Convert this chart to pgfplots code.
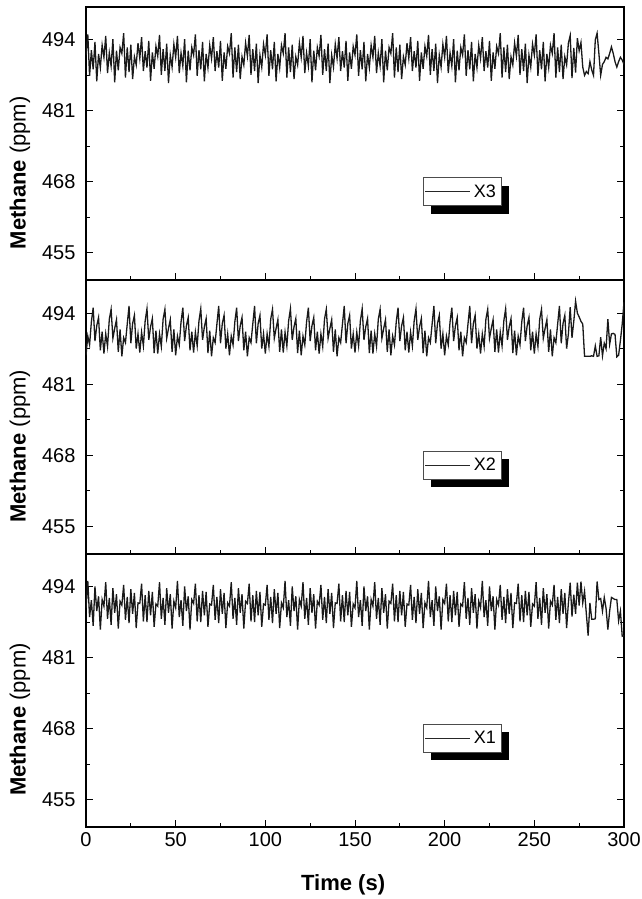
\documentclass[border=0pt]{standalone}
\usepackage{fontspec}
\setmainfont{Liberation Sans}
\usepackage{pgfplots}
\pgfplotsset{compat=1.18}
\usetikzlibrary{shadows}
\pgfplotsset{panel/.style={
  scale only axis, width=538pt, height=273.33pt,
  xmin=0, xmax=300, ymin=450, ymax=500,
  xtick={0,50,...,300}, minor x tick num=1,
  ytick={455,468,481,494}, minor y tick num=1,
  tick align=inside, xtick pos=left, ytick pos=both,
  major tick length=7pt, minor tick length=4pt,
  axis line style={line width=1.8pt, line cap=rect},
  axis background/.style={draw=black, line width=1.8pt},
  every tick/.style={line width=1pt, black},
  tick label style={font=\fontsize{20}{24}\selectfont},
  yticklabel style={xshift=-7pt},
  xticklabel style={yshift=-2pt},
  /pgf/number format/assume math mode=true,
  cycle list={{black!90, no markers, line width=1.3pt}},
  legend style={at={(0.626,0.377)}, anchor=north west, draw=black!70, line width=0.6pt, fill=white,
    font=\fontsize{18}{20}\selectfont, inner xsep=1.5pt, inner ysep=1pt,
    nodes={inner xsep=3.5pt, inner ysep=6pt},
    drop shadow={shadow xshift=8pt, shadow yshift=-8pt, fill=black, opacity=1, draw=none}},
  legend image code/.code={\pgfsetlinewidth{0.9pt}\pgfsetstrokecolor{black!85}%
    \pgfpathmoveto{\pgfpoint{0pt}{0pt}}\pgfpathlineto{\pgfpoint{45pt}{0pt}}\pgfusepath{stroke}},
  ylabel={\textbf{Methane} (ppm)},
  ylabel style={at={(axis description cs:-0.1227,0.393)}, anchor=center, font=\fontsize{22}{26}\selectfont},
}}
\begin{document}
\begin{tikzpicture}
% ---------------- top panel (X3)
\begin{axis}[panel, at={(0pt,546.67pt)}, anchor=south west, xticklabel=\empty]
\addplot[black!90, line width=1.3pt] coordinates {
(0,491.2)(1,495.0)(2,487.4)(3,492.1)(4,488.6)(5,493.6)(6,486.4)(7,491.4)(8,488.9)(9,493.0)
(10,490.8)(11,494.7)(12,487.9)(13,491.6)(14,489.2)(15,494.1)(16,486.2)(17,492.0)(18,488.4)(19,492.6)
(20,491.5)(21,495.2)(22,487.1)(23,492.6)(24,488.1)(25,493.1)(26,486.8)(27,490.9)(28,489.4)(29,493.4)
(30,490.6)(31,494.5)(32,488.3)(33,491.9)(34,488.9)(35,493.8)(36,486.5)(37,491.7)(38,488.7)(39,492.8)
(40,491.0)(41,494.9)(42,487.6)(43,492.3)(44,488.3)(45,493.3)(46,486.1)(47,491.2)(48,489.0)(49,493.2)
(50,490.8)(51,494.7)(52,487.9)(53,491.6)(54,489.2)(55,494.1)(56,486.2)(57,492.0)(58,488.4)(59,492.6)
(60,491.2)(61,495.0)(62,487.4)(63,492.1)(64,488.6)(65,493.6)(66,486.4)(67,491.4)(68,488.9)(69,493.0)
(70,490.6)(71,494.5)(72,488.3)(73,491.9)(74,488.9)(75,493.8)(76,486.5)(77,491.7)(78,488.7)(79,492.8)
(80,491.5)(81,495.2)(82,487.1)(83,492.6)(84,488.1)(85,493.1)(86,486.8)(87,490.9)(88,489.4)(89,493.4)
(90,491.0)(91,494.9)(92,487.6)(93,492.3)(94,488.3)(95,493.3)(96,486.1)(97,491.2)(98,489.0)(99,493.2)
(100,491.2)(101,495.0)(102,487.4)(103,492.1)(104,488.6)(105,493.6)(106,486.4)(107,491.4)(108,488.9)(109,493.0)
(110,491.5)(111,495.2)(112,487.1)(113,492.6)(114,488.1)(115,493.1)(116,486.8)(117,490.9)(118,489.4)(119,493.4)
(120,490.8)(121,494.7)(122,487.9)(123,491.6)(124,489.2)(125,494.1)(126,486.2)(127,492.0)(128,488.4)(129,492.6)
(130,491.0)(131,494.9)(132,487.6)(133,492.3)(134,488.3)(135,493.3)(136,486.1)(137,491.2)(138,489.0)(139,493.2)
(140,490.6)(141,494.5)(142,488.3)(143,491.9)(144,488.9)(145,493.8)(146,486.5)(147,491.7)(148,488.7)(149,492.8)
(150,491.2)(151,495.0)(152,487.4)(153,492.1)(154,488.6)(155,493.6)(156,486.4)(157,491.4)(158,488.9)(159,493.0)
(160,490.8)(161,494.7)(162,487.9)(163,491.6)(164,489.2)(165,494.1)(166,486.2)(167,492.0)(168,488.4)(169,492.6)
(170,491.5)(171,495.2)(172,487.1)(173,492.6)(174,488.1)(175,493.1)(176,486.8)(177,490.9)(178,489.4)(179,493.4)
(180,490.6)(181,494.5)(182,488.3)(183,491.9)(184,488.9)(185,493.8)(186,486.5)(187,491.7)(188,488.7)(189,492.8)
(190,491.0)(191,494.9)(192,487.6)(193,492.3)(194,488.3)(195,493.3)(196,486.1)(197,491.2)(198,489.0)(199,493.2)
(200,490.8)(201,494.7)(202,487.9)(203,491.6)(204,489.2)(205,494.1)(206,486.2)(207,492.0)(208,488.4)(209,492.6)
(210,491.2)(211,495.0)(212,487.4)(213,492.1)(214,488.6)(215,493.6)(216,486.4)(217,491.4)(218,488.9)(219,493.0)
(220,490.6)(221,494.5)(222,488.3)(223,491.9)(224,488.9)(225,493.8)(226,486.5)(227,491.7)(228,488.7)(229,492.8)
(230,491.5)(231,495.2)(232,487.1)(233,492.6)(234,488.1)(235,493.1)(236,486.8)(237,490.9)(238,489.4)(239,493.4)
(240,491.0)(241,494.9)(242,487.6)(243,492.3)(244,488.3)(245,493.3)(246,486.1)(247,491.2)(248,489.0)(249,493.2)
(250,491.2)(251,495.0)(252,487.4)(253,492.1)(254,488.6)(255,493.6)(256,486.4)(257,491.4)(258,488.9)(259,493.0)
(260,491.5)(261,495.2)(262,487.1)(263,492.6)(264,488.1)(265,493.1)(266,486.8)(267,490.9)(268,489.4)(269,493.4)
(270,494.8)(271,487.0)(272,492.5)(273,488.0)(274,494.3)(275,492.0)(276,493.5)(277,489.0)(278,487.5)(279,488.2)
(280,487.8)(281,490.0)(282,488.5)(283,487.5)(284,494.0)(285,495.2)(286,491.5)(287,487.5)(288,489.5)(289,490.0)
(290,490.8)(291,490.5)(292,491.5)(293,492.7)(294,491.5)(295,490.0)(296,489.0)(297,490.0)(298,490.8)(299,490.3)
(300,489.5)};
\addlegendentry{X3}
\end{axis}
% ---------------- middle panel (X2)
\begin{axis}[panel, at={(0pt,273.33pt)}, anchor=south west, xticklabel=\empty]
\addplot[black!90, line width=1.3pt] coordinates {
(0,486.3)(1,489.8)(2,488.2)(3,492.4)(4,495.0)(5,488.9)(6,491.7)(7,493.2)(8,487.2)(9,490.6)
(10,486.6)(11,490.2)(12,487.9)(13,492.9)(14,494.7)(15,489.4)(16,491.2)(17,492.8)(18,486.9)(19,491.0)
(20,486.1)(21,489.5)(22,488.6)(23,492.0)(24,495.3)(25,488.5)(26,492.1)(27,493.6)(28,487.5)(29,490.2)
(30,486.8)(31,490.5)(32,488.0)(33,492.6)(34,494.8)(35,489.1)(36,491.5)(37,493.0)(38,486.7)(39,490.8)
(40,486.6)(41,490.2)(42,487.9)(43,492.9)(44,494.7)(45,489.4)(46,491.2)(47,492.8)(48,486.9)(49,491.0)
(50,486.3)(51,489.8)(52,488.2)(53,492.4)(54,495.0)(55,488.9)(56,491.7)(57,493.2)(58,487.2)(59,490.6)
(60,486.8)(61,490.5)(62,488.0)(63,492.6)(64,494.8)(65,489.1)(66,491.5)(67,493.0)(68,486.7)(69,490.8)
(70,486.1)(71,489.5)(72,488.6)(73,492.0)(74,495.3)(75,488.5)(76,492.1)(77,493.6)(78,487.5)(79,490.2)
(80,486.3)(81,489.8)(82,488.2)(83,492.4)(84,495.0)(85,488.9)(86,491.7)(87,493.2)(88,487.2)(89,490.6)
(90,486.1)(91,489.5)(92,488.6)(93,492.0)(94,495.3)(95,488.5)(96,492.1)(97,493.6)(98,487.5)(99,490.2)
(100,486.6)(101,490.2)(102,487.9)(103,492.9)(104,494.7)(105,489.4)(106,491.2)(107,492.8)(108,486.9)(109,491.0)
(110,486.8)(111,490.5)(112,488.0)(113,492.6)(114,494.8)(115,489.1)(116,491.5)(117,493.0)(118,486.7)(119,490.8)
(120,486.3)(121,489.8)(122,488.2)(123,492.4)(124,495.0)(125,488.9)(126,491.7)(127,493.2)(128,487.2)(129,490.6)
(130,486.6)(131,490.2)(132,487.9)(133,492.9)(134,494.7)(135,489.4)(136,491.2)(137,492.8)(138,486.9)(139,491.0)
(140,486.1)(141,489.5)(142,488.6)(143,492.0)(144,495.3)(145,488.5)(146,492.1)(147,493.6)(148,487.5)(149,490.2)
(150,486.8)(151,490.5)(152,488.0)(153,492.6)(154,494.8)(155,489.1)(156,491.5)(157,493.0)(158,486.7)(159,490.8)
(160,486.6)(161,490.2)(162,487.9)(163,492.9)(164,494.7)(165,489.4)(166,491.2)(167,492.8)(168,486.9)(169,491.0)
(170,486.3)(171,489.8)(172,488.2)(173,492.4)(174,495.0)(175,488.9)(176,491.7)(177,493.2)(178,487.2)(179,490.6)
(180,486.8)(181,490.5)(182,488.0)(183,492.6)(184,494.8)(185,489.1)(186,491.5)(187,493.0)(188,486.7)(189,490.8)
(190,486.1)(191,489.5)(192,488.6)(193,492.0)(194,495.3)(195,488.5)(196,492.1)(197,493.6)(198,487.5)(199,490.2)
(200,486.3)(201,489.8)(202,488.2)(203,492.4)(204,495.0)(205,488.9)(206,491.7)(207,493.2)(208,487.2)(209,490.6)
(210,486.1)(211,489.5)(212,488.6)(213,492.0)(214,495.3)(215,488.5)(216,492.1)(217,493.6)(218,487.5)(219,490.2)
(220,486.6)(221,490.2)(222,487.9)(223,492.9)(224,494.7)(225,489.4)(226,491.2)(227,492.8)(228,486.9)(229,491.0)
(230,486.8)(231,490.5)(232,488.0)(233,492.6)(234,494.8)(235,489.1)(236,491.5)(237,493.0)(238,486.7)(239,490.8)
(240,486.3)(241,489.8)(242,488.2)(243,492.4)(244,495.0)(245,488.9)(246,491.7)(247,493.2)(248,487.2)(249,490.6)
(250,486.6)(251,490.2)(252,487.9)(253,492.9)(254,494.7)(255,489.4)(256,491.2)(257,492.8)(258,486.9)(259,491.0)
(260,486.1)(261,489.5)(262,488.6)(263,492.0)(264,495.3)(265,488.5)(266,492.1)(267,493.6)(268,487.5)(269,490.2)
(270,495.1)(271,489.5)(272,492.5)(273,496.2)(274,494.0)(275,493.3)(276,492.5)(277,492.0)(278,486.1)(279,486.1)
(280,486.1)(281,486.1)(282,486.2)(283,486.1)(284,488.0)(285,486.1)(286,486.2)(287,489.6)(288,486.2)(289,488.5)
(290,487.5)(291,492.9)(292,488.3)(293,490.2)(294,490.3)(295,490.1)(296,486.0)(297,486.3)(298,489.0)(299,492.0)
(300,496.0)};
\addlegendentry{X2}
\end{axis}
% ---------------- bottom panel (X1)
\begin{axis}[panel, at={(0pt,0pt)}, anchor=south west,
  xlabel={\textbf{Time (s)}},
  xlabel style={at={(axis description cs:0.478,-0.212)}, anchor=center, font=\fontsize{22}{26}\selectfont}]
\addplot[black!90, line width=1.3pt] coordinates {
(0,490.1)(1,495.0)(2,488.4)(3,491.5)(4,486.8)(5,494.0)(6,489.5)(7,492.2)(8,486.1)(9,491.6)
(10,490.4)(11,494.8)(12,488.1)(13,491.9)(14,487.0)(15,493.7)(16,489.2)(17,492.6)(18,486.3)(19,491.3)
(20,490.6)(21,494.3)(22,487.9)(23,492.1)(24,487.3)(25,493.5)(26,489.0)(27,492.8)(28,486.4)(29,491.0)
(30,490.9)(31,494.5)(32,487.6)(33,492.4)(34,487.5)(35,493.2)(36,488.7)(37,493.0)(38,486.6)(39,490.8)
(40,490.4)(41,494.8)(42,488.1)(43,491.9)(44,487.0)(45,493.7)(46,489.2)(47,492.6)(48,486.3)(49,491.3)
(50,490.1)(51,495.0)(52,488.4)(53,491.5)(54,486.8)(55,494.0)(56,489.5)(57,492.2)(58,486.1)(59,491.6)
(60,490.9)(61,494.5)(62,487.6)(63,492.4)(64,487.5)(65,493.2)(66,488.7)(67,493.0)(68,486.6)(69,490.8)
(70,490.6)(71,494.3)(72,487.9)(73,492.1)(74,487.3)(75,493.5)(76,489.0)(77,492.8)(78,486.4)(79,491.0)
(80,490.4)(81,494.8)(82,488.1)(83,491.9)(84,487.0)(85,493.7)(86,489.2)(87,492.6)(88,486.3)(89,491.3)
(90,490.9)(91,494.5)(92,487.6)(93,492.4)(94,487.5)(95,493.2)(96,488.7)(97,493.0)(98,486.6)(99,490.8)
(100,490.6)(101,494.3)(102,487.9)(103,492.1)(104,487.3)(105,493.5)(106,489.0)(107,492.8)(108,486.4)(109,491.0)
(110,490.1)(111,495.0)(112,488.4)(113,491.5)(114,486.8)(115,494.0)(116,489.5)(117,492.2)(118,486.1)(119,491.6)
(120,490.4)(121,494.8)(122,488.1)(123,491.9)(124,487.0)(125,493.7)(126,489.2)(127,492.6)(128,486.3)(129,491.3)
(130,490.6)(131,494.3)(132,487.9)(133,492.1)(134,487.3)(135,493.5)(136,489.0)(137,492.8)(138,486.4)(139,491.0)
(140,490.9)(141,494.5)(142,487.6)(143,492.4)(144,487.5)(145,493.2)(146,488.7)(147,493.0)(148,486.6)(149,490.8)
(150,490.1)(151,495.0)(152,488.4)(153,491.5)(154,486.8)(155,494.0)(156,489.5)(157,492.2)(158,486.1)(159,491.6)
(160,490.4)(161,494.8)(162,488.1)(163,491.9)(164,487.0)(165,493.7)(166,489.2)(167,492.6)(168,486.3)(169,491.3)
(170,490.9)(171,494.5)(172,487.6)(173,492.4)(174,487.5)(175,493.2)(176,488.7)(177,493.0)(178,486.6)(179,490.8)
(180,490.6)(181,494.3)(182,487.9)(183,492.1)(184,487.3)(185,493.5)(186,489.0)(187,492.8)(188,486.4)(189,491.0)
(190,490.1)(191,495.0)(192,488.4)(193,491.5)(194,486.8)(195,494.0)(196,489.5)(197,492.2)(198,486.1)(199,491.6)
(200,490.9)(201,494.5)(202,487.6)(203,492.4)(204,487.5)(205,493.2)(206,488.7)(207,493.0)(208,486.6)(209,490.8)
(210,490.4)(211,494.8)(212,488.1)(213,491.9)(214,487.0)(215,493.7)(216,489.2)(217,492.6)(218,486.3)(219,491.3)
(220,490.1)(221,495.0)(222,488.4)(223,491.5)(224,486.8)(225,494.0)(226,489.5)(227,492.2)(228,486.1)(229,491.6)
(230,490.6)(231,494.3)(232,487.9)(233,492.1)(234,487.3)(235,493.5)(236,489.0)(237,492.8)(238,486.4)(239,491.0)
(240,490.9)(241,494.5)(242,487.6)(243,492.4)(244,487.5)(245,493.2)(246,488.7)(247,493.0)(248,486.6)(249,490.8)
(250,490.4)(251,494.8)(252,488.1)(253,491.9)(254,487.0)(255,493.7)(256,489.2)(257,492.6)(258,486.3)(259,491.3)
(260,490.6)(261,494.3)(262,487.9)(263,492.1)(264,487.3)(265,493.5)(266,489.0)(267,492.8)(268,486.4)(269,491.0)
(270,494.7)(271,488.5)(272,492.5)(273,489.0)(274,494.7)(275,490.5)(276,494.9)(277,491.0)(278,493.1)(279,489.0)
(280,485.0)(281,491.0)(282,488.0)(283,488.0)(284,488.1)(285,494.9)(286,491.6)(287,491.8)(288,489.5)(289,492.0)
(290,490.0)(291,486.1)(292,489.5)(293,492.0)(294,491.8)(295,491.6)(296,491.6)(297,487.7)(298,489.5)(299,484.9)
(300,485.0)};
\addlegendentry{X1}
\end{axis}
\pgfresetboundingbox
\path[use as bounding box] (-86pt,-72pt) rectangle (556pt,827pt);
\end{tikzpicture}
\end{document}
